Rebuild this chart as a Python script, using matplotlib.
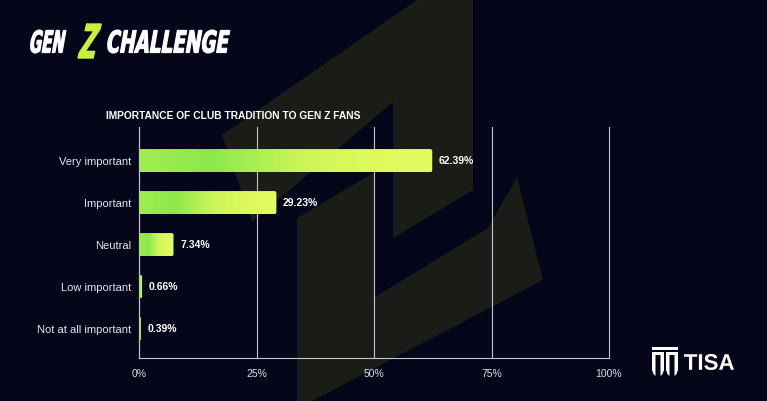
import numpy as np
import matplotlib.pyplot as plt
from matplotlib.colors import LinearSegmentedColormap
from matplotlib.patches import FancyBboxPatch, Polygon, PathPatch, Rectangle
from matplotlib.textpath import TextPath
from matplotlib.font_manager import FontProperties
from matplotlib.transforms import Affine2D

# Data
categories = ["Very important", "Important", "Neutral", "Low important", "Not at all important"]
shares = [62.39, 29.23, 7.34, 0.66, 0.39]
tick_values = [0, 25, 50, 75, 100]
tick_labels = ["0%", "25%", "50%", "75%", "100%"]
title = "IMPORTANCE OF CLUB TRADITION TO GEN Z FANS"

BG = "#05061a"
OLIVE = "#1a1d17"
GRID = "#c4c5cc"
W, H = 767, 401

plt.rcParams["font.family"] = ["Liberation Sans", "DejaVu Sans"]

fig = plt.figure(figsize=(W / 100, H / 100), dpi=100, facecolor=BG)

# Background layer in pixel coordinates (y goes down like the image)
bg = fig.add_axes([0, 0, 1, 1], zorder=0)
bg.set_xlim(0, W)
bg.set_ylim(H, 0)
bg.axis("off")

# faint watermark shape behind the chart
upper = [(417, 0), (473, 0), (473, 190), (393, 238), (393, 102),
         (252, 222), (222, 135)]
lower = [(297, 218), (375, 172), (375, 297), (488, 228), (517, 177),
         (543, 280), (312, 401), (297, 401)]
for pts in (upper, lower):
    bg.add_patch(Polygon(pts, closed=True, color=OLIVE, lw=0))


def path_text(ax, s, x0, y_base, cap_h, width, color, weight="bold",
              family="Liberation Sans Narrow", slant=0.0, edge=0.0):
    fp = FontProperties(family=family, weight=weight)
    tp = TextPath((0, 0), s, size=100, prop=fp)
    ext = tp.get_extents()
    sx = width / ext.width
    sy = cap_h / ext.height
    tr = (Affine2D().translate(-ext.x0, -ext.y0).scale(sx, sy)
          .skew_deg(slant, 0).scale(1, -1).translate(x0, y_base))
    ax.add_patch(PathPatch(tr.transform_path(tp), fc=color, ec=color, lw=edge))


# GEN Z CHALLENGE logo
path_text(bg, "GEN", 29, 53, 23, 33, "white", slant=10, edge=0.8)
path_text(bg, "Z", 78, 58, 34, 15, "#c8f03c", slant=14, edge=1.0)
path_text(bg, "CHALLENGE", 106, 53, 23, 120, "white", slant=10, edge=0.8)

# TISA logo
bg.add_patch(Rectangle((652, 347), 26, 3, color="white", lw=0))
for left in (652, 666):
    bg.add_patch(Rectangle((left, 352), 12, 3, color="white", lw=0))
    bg.add_patch(Polygon([(left, 352), (left + 3.5, 352), (left + 3.5, 376),
                          (left + 1.5, 374), (left, 370)], color="white", lw=0))
    bg.add_patch(Polygon([(left + 8.5, 352), (left + 12, 352), (left + 12, 370),
                          (left + 10.5, 374), (left + 8.5, 376)], color="white", lw=0))
path_text(bg, "TISA", 684, 370, 16, 50, "white", family="Liberation Sans")

# chart title
bg.text(106, 119, title, color="white", fontsize=7.4, fontweight="bold",
        ha="left", va="baseline")

# Main chart
ax = fig.add_axes([139 / W, 1 - 358 / H, 470 / W, 231 / H], zorder=2)
ax.patch.set_alpha(0)
ax.set_xlim(0, 100)
ax.set_ylim(4.70, -0.80)

ax.set_xticks(tick_values)
ax.set_xticklabels(tick_labels)
ax.xaxis.grid(True, color=GRID, lw=0.8)
for line in ax.get_xgridlines():
    line.set_clip_on(False)
ax.set_axisbelow(True)
ax.set_yticks(range(len(categories)))
ax.set_yticklabels(categories)
ax.tick_params(axis="x", length=0, pad=8, colors="#dcdde2", labelsize=7.5)
ax.tick_params(axis="y", length=0, pad=5.5, colors="#e4e5ea", labelsize=8)
for side in ("top", "right"):
    ax.spines[side].set_visible(False)
for side in ("left", "bottom"):
    ax.spines[side].set_color(GRID)
    ax.spines[side].set_linewidth(0.8)

cmap = LinearSegmentedColormap.from_list(
    "bar", [(0.0, "#a2ed50"), (0.25, "#8be84b"), (0.55, "#cdf559"),
            (0.8, "#dff95d"), (1.0, "#e5fb60")])
grad = np.linspace(0, 1, 256).reshape(1, -1)

bar_h = 0.55
px_x = 100 / 470
aspect = (5.5 / 231) / px_x
for i, val in enumerate(shares):
    r = min(2 * px_x, val / 2)
    box = FancyBboxPatch((0, i - bar_h / 2), val, bar_h,
                         boxstyle=f"round,pad=0,rounding_size={r}",
                         mutation_aspect=aspect, fc="none", ec="none")
    ax.add_patch(box)
    im = ax.imshow(grad, cmap=cmap, aspect="auto", zorder=3,
                   extent=(0, val, i + bar_h / 2, i - bar_h / 2))
    im.set_clip_path(box)
    ax.text(val + 1.4, i, f"{val:.2f}%", color="white", fontsize=7.5,
            fontweight="bold", va="center", ha="left", zorder=4)

ax.set_xlim(0, 100)
ax.set_ylim(4.70, -0.80)

plt.savefig("out.png", dpi=100, facecolor=BG)
